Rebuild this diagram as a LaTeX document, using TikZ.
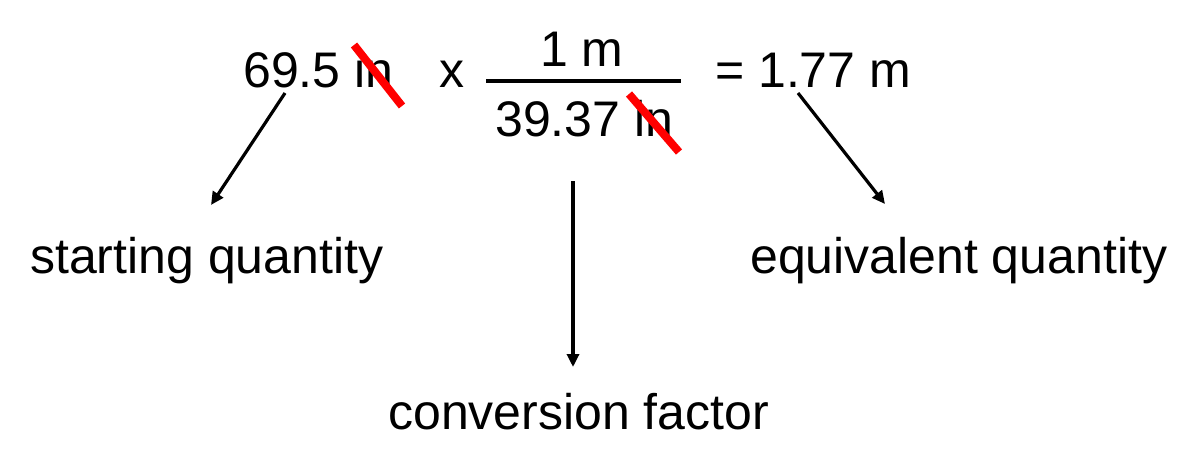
\documentclass[tikz,border=0pt]{standalone}
\usepackage{fontspec}
\setmainfont{Liberation Sans}
\usetikzlibrary{arrows.meta}
\begin{document}
\begin{tikzpicture}[x=1pt,y=-1pt,
  txt/.style={anchor=base west,inner sep=0pt,font=\fontsize{50}{60}\selectfont},
  arr/.style={line width=3.2pt,-{Triangle[length=13pt,width=12pt]}},
  cross/.style={line width=8pt,draw={rgb,255:red,255;green,0;blue,0}}]
\useasboundingbox (0,0) rectangle (1199,466);
\node[txt] (start) at (243,87) {69.5 in};
\node[txt] (times) at (439,87) {x};
\node[txt] (num) at (540,66) {1 m};
\node[txt] (den) at (495,136) {39.37 in};
\node[txt] (result) at (715,87) {= 1.77 m};
\node[txt] (sq) at (30,273) {starting quantity};
\node[txt] (eq) at (750,273) {equivalent quantity};
\node[txt] (cf) at (388,429) {conversion factor};
\coordinate (fl) at (486,81);
\coordinate (fr) at (681,81);
\draw[line width=3.6pt] (fl) -- (fr);
\coordinate (c1a) at (354,45);
\coordinate (c1b) at (402,106);
\draw[cross] (c1a) -- (c1b);
\coordinate (c2a) at (629,94);
\coordinate (c2b) at (679,152);
\draw[cross] (c2a) -- (c2b);
\coordinate (a1s) at (285,93);
\coordinate (a1e) at (211,205);
\draw[arr] (a1s) -- (a1e);
\coordinate (a2s) at (573,181);
\coordinate (a2e) at (573,367);
\draw[arr] (a2s) -- (a2e);
\coordinate (a3s) at (798,93);
\coordinate (a3e) at (885,204);
\draw[arr] (a3s) -- (a3e);
\end{tikzpicture}
\end{document}
